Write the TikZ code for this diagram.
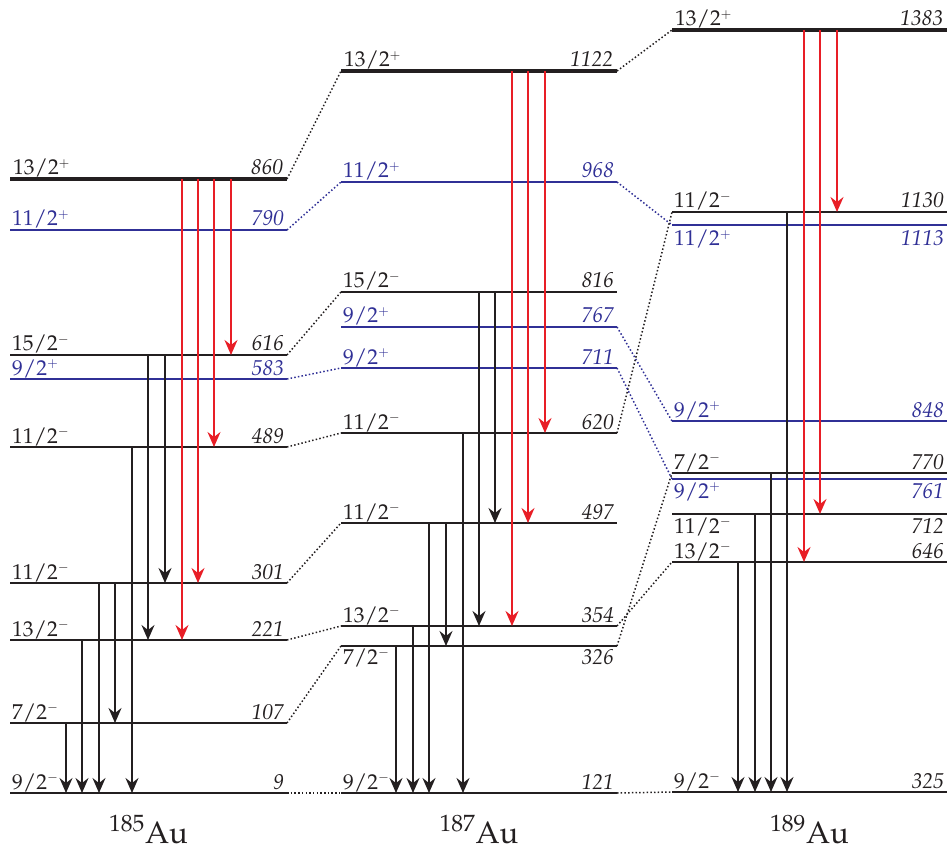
\documentclass[tikz,border=0pt]{standalone}
\usepackage[T1]{fontenc}
\usepackage{mathpazo}
\usetikzlibrary{arrows.meta}
\definecolor{lvblue}{RGB}{48,48,150}
\definecolor{trred}{RGB}{232,30,38}
\definecolor{txblack}{RGB}{35,31,32}
\newcommand\drawlevel[8]{%
  \coordinate (#1L) at (#2,#4);
  \coordinate (#1R) at (#3,#4);
  \draw[#5] (#1L) -- (#1R);
  \node[lab,#5,anchor=base west] (#1s) at ({#2+1},{#4+#8}) {#6};
  \node[lab,#5,anchor=base east] (#1e) at ({#3-2},{#4+#8}) {\itshape #7};
}
\newcommand\spinp[1]{$#1^{\scriptscriptstyle +}$}
\newcommand\spinm[1]{$#1^{\scriptscriptstyle -}$}
\begin{document}
\begin{tikzpicture}[x=1pt,y=-1pt,
  lab/.style={inner sep=0pt,font=\fontsize{21.5}{26}\selectfont},
  lvthick/.style={line width=4pt,color=txblack},
  lvblack/.style={line width=2.3pt,color=txblack},
  lvblu/.style={line width=2.3pt,color=lvblue},
  trblack/.style={line width=1.5pt,color=txblack,-{Stealth[length=15pt,width=13pt,inset=5pt]}},
  trred/.style={line width=1.8pt,color=trred,-{Stealth[length=15pt,width=13pt,inset=5pt]}},
  connblack/.style={line width=1.5pt,color=txblack,dash pattern=on 1.5pt off 2.2pt},
  connblue/.style={line width=1.5pt,color=lvblue,dash pattern=on 1.5pt off 2.2pt},
  iso/.style={inner sep=0pt,font=\fontsize{31}{36}\selectfont,anchor=base,text=txblack}]
\useasboundingbox (0,0) rectangle (948,850);

% 185Au
\drawlevel{a860}{10}{287}{179}{lvthick}{\spinp{13/2}}{860}{-4}
\drawlevel{a790}{10}{287}{230}{lvblu}{\spinp{11/2}}{790}{-4}
\drawlevel{a616}{10}{287}{355}{lvblack}{\spinm{15/2}}{616}{-4}
\drawlevel{a583}{10}{287}{379}{lvblu}{\spinp{9/2}}{583}{-4}
\drawlevel{a489}{10}{287}{447}{lvblack}{\spinm{11/2}}{489}{-4}
\drawlevel{a301}{10}{287}{583}{lvblack}{\spinm{11/2}}{301}{-4}
\drawlevel{a221}{10}{287}{640}{lvblack}{\spinm{13/2}}{221}{-4}
\drawlevel{a107}{10}{287}{723}{lvblack}{\spinm{7/2}}{107}{-4}
\drawlevel{a9}{10}{287}{793}{lvblack}{\spinm{9/2}}{9}{-4}

% 187Au
\drawlevel{b1122}{341}{617}{71}{lvthick}{\spinp{13/2}}{1122}{-4}
\drawlevel{b968}{341}{617}{182}{lvblu}{\spinp{11/2}}{968}{-4}
\drawlevel{b816}{341}{617}{292}{lvblack}{\spinm{15/2}}{816}{-4}
\drawlevel{b767}{341}{617}{327}{lvblu}{\spinp{9/2}}{767}{-4}
\drawlevel{b711}{341}{617}{368}{lvblu}{\spinp{9/2}}{711}{-4}
\drawlevel{b620}{341}{617}{433}{lvblack}{\spinm{11/2}}{620}{-4}
\drawlevel{b497}{341}{617}{523}{lvblack}{\spinm{11/2}}{497}{-4}
\drawlevel{b354}{341}{617}{626}{lvblack}{\spinm{13/2}}{354}{-4}
\drawlevel{b326}{341}{617}{646}{lvblack}{\spinm{7/2}}{326}{18}
\drawlevel{b121}{341}{617}{793}{lvblack}{\spinm{9/2}}{121}{-4}

% 189Au
\drawlevel{c1383}{672}{947}{30}{lvthick}{\spinp{13/2}}{1383}{-4}
\drawlevel{c1130}{672}{947}{212}{lvblack}{\spinm{11/2}}{1130}{-4}
\drawlevel{c1113}{672}{947}{225}{lvblu}{\spinp{11/2}}{1113}{21}
\drawlevel{c848}{672}{947}{421}{lvblu}{\spinp{9/2}}{848}{-4}
\drawlevel{c770}{672}{947}{473}{lvblack}{\spinm{7/2}}{770}{-4}
\drawlevel{c761}{672}{947}{479}{lvblu}{\spinp{9/2}}{761}{19}
\drawlevel{c712}{672}{947}{514}{lvblack}{\spinm{11/2}}{712}{19}
\drawlevel{c646}{672}{947}{562}{lvblack}{\spinm{13/2}}{646}{-4}
\drawlevel{c325}{672}{947}{792}{lvblack}{\spinm{9/2}}{325}{-4}

% transitions 185Au
\draw[trred] (231,0 |- a860L) -- (231,0 |- a616L);
\draw[trred] (214,0 |- a860L) -- (214,0 |- a489L);
\draw[trred] (198,0 |- a860L) -- (198,0 |- a301L);
\draw[trred] (182,0 |- a860L) -- (182,0 |- a221L);
\draw[trblack] (165,0 |- a616L) -- (165,0 |- a301L);
\draw[trblack] (148,0 |- a616L) -- (148,0 |- a221L);
\draw[trblack] (132,0 |- a489L) -- (132,0 |- a9L);
\draw[trblack] (115,0 |- a301L) -- (115,0 |- a107L);
\draw[trblack] (99,0 |- a301L) -- (99,0 |- a9L);
\draw[trblack] (82,0 |- a221L) -- (82,0 |- a9L);
\draw[trblack] (66,0 |- a107L) -- (66,0 |- a9L);

% transitions 187Au
\draw[trred] (545,0 |- b1122L) -- (545,0 |- b620L);
\draw[trred] (528,0 |- b1122L) -- (528,0 |- b497L);
\draw[trred] (512,0 |- b1122L) -- (512,0 |- b354L);
\draw[trblack] (495,0 |- b816L) -- (495,0 |- b497L);
\draw[trblack] (479,0 |- b816L) -- (479,0 |- b354L);
\draw[trblack] (463,0 |- b620L) -- (463,0 |- b121L);
\draw[trblack] (446,0 |- b497L) -- (446,0 |- b326L);
\draw[trblack] (429,0 |- b497L) -- (429,0 |- b121L);
\draw[trblack] (413,0 |- b354L) -- (413,0 |- b121L);
\draw[trblack] (396,0 |- b326L) -- (396,0 |- b121L);

% transitions 189Au
\draw[trred] (837,0 |- c1383L) -- (837,0 |- c1130L);
\draw[trred] (820,0 |- c1383L) -- (820,0 |- c712L);
\draw[trred] (804,0 |- c1383L) -- (804,0 |- c646L);
\draw[trblack] (787,0 |- c1130L) -- (787,0 |- c325L);
\draw[trblack] (771,0 |- c770L) -- (771,0 |- c325L);
\draw[trblack] (755,0 |- c712L) -- (755,0 |- c325L);
\draw[trblack] (738,0 |- c646L) -- (738,0 |- c325L);

% connectors 185 -> 187
\draw[connblack] (a860R) -- (b1122L);
\draw[connblue] (a790R) -- (b968L);
\draw[connblack] (a616R) -- (b816L);
\draw[connblue] (a583R) -- (b711L);
\draw[connblack] (a489R) -- (b620L);
\draw[connblack] (a301R) -- (b497L);
\draw[connblack] (a221R) -- (b354L);
\draw[connblack] (a107R) -- (b326L);
\draw[connblack] (a9R) -- (b121L);

% connectors 187 -> 189
\draw[connblack] (b1122R) -- (c1383L);
\draw[connblue] (b968R) -- (c1113L);
\draw[connblack] (b620R) -- (c1130L);
\draw[connblue] (b767R) -- (c848L);
\draw[connblue] (b711R) -- (c761L);
\draw[connblack] (b354R) -- (c646L);
\draw[connblack] (b326R) -- (c770L);
\draw[connblack] (b121R) -- (c325L);

% isotope labels
\node[iso] (n185) at (148.5,843) {$^{185}$Au};
\node[iso] (n187) at (479,843) {$^{187}$Au};
\node[iso] (n189) at (809.5,843) {$^{189}$Au};
\end{tikzpicture}
\end{document}
